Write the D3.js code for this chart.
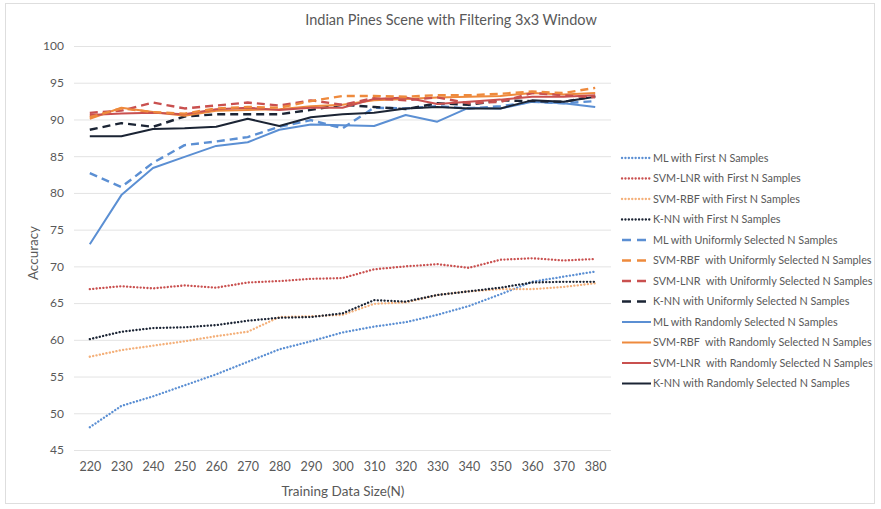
<!DOCTYPE html>
<html>
<head>
<meta charset="utf-8">
<script src="https://cdn.jsdelivr.net/npm/d3@7/dist/d3.min.js"></script>
<style>
  html, body { margin: 0; padding: 0; background: #fff; }
  svg text { font-family: Lato, "Open Sans", sans-serif; fill: #595959; }
  .legend text { white-space: pre; }
</style>
</head>
<body>
<svg id="chart" width="881" height="509"></svg>
<script>
// Training set sizes (x categories) and y tick values
const trainingSizes = [220, 230, 240, 250, 260, 270, 280, 290, 300, 310, 320, 330, 340, 350, 360, 370, 380];
const accuracyTicks = [45, 50, 55, 60, 65, 70, 75, 80, 85, 90, 95, 100];

// Accuracy (%) per classifier and sampling strategy
const mlFirst      = [48.1, 51.0, 52.3, 53.8, 55.3, 57.0, 58.7, 59.8, 61.0, 61.8, 62.4, 63.4, 64.6, 66.2, 67.9, 68.6, 69.3];
const svmLnrFirst  = [66.9, 67.3, 67.0, 67.4, 67.1, 67.8, 68.0, 68.3, 68.4, 69.6, 70.0, 70.3, 69.8, 70.9, 71.1, 70.8, 71.0];
const svmRbfFirst  = [57.7, 58.6, 59.2, 59.8, 60.5, 61.1, 63.1, 63.2, 63.4, 64.9, 65.1, 66.1, 66.6, 66.9, 66.9, 67.2, 67.7];
const knnFirst     = [60.1, 61.1, 61.6, 61.7, 62.0, 62.6, 63.0, 63.1, 63.6, 65.4, 65.2, 66.1, 66.6, 67.1, 67.8, 67.9, 67.9];
const mlUniform    = [82.7, 80.8, 84.1, 86.5, 87.0, 87.6, 89.0, 89.9, 88.8, 91.6, 91.5, 91.8, 91.5, 91.8, 92.4, 92.2, 92.5];
const svmRbfUniform= [90.3, 91.5, 91.0, 90.8, 91.5, 91.7, 91.6, 92.5, 93.2, 93.2, 93.1, 93.3, 93.3, 93.5, 93.8, 93.6, 94.3];
const svmLnrUniform= [90.9, 91.2, 92.3, 91.5, 91.9, 92.3, 91.9, 92.6, 92.0, 92.9, 92.6, 93.0, 92.2, 92.4, 93.6, 93.3, 93.0];
const knnUniform   = [88.6, 89.5, 89.0, 90.4, 90.7, 90.7, 90.7, 91.3, 92.0, 91.7, 91.4, 92.2, 92.0, 92.6, 92.5, 92.4, 93.2];
const mlRandom     = [73.0, 79.7, 83.4, 84.9, 86.4, 86.9, 88.6, 89.3, 89.2, 89.1, 90.6, 89.7, 91.6, 91.5, 92.4, 92.2, 91.7];
const svmRbfRandom = [90.1, 91.6, 91.0, 90.5, 91.2, 91.3, 91.4, 91.8, 92.0, 92.6, 92.8, 93.0, 93.1, 93.2, 93.6, 93.4, 93.6];
const svmLnrRandom = [90.6, 90.8, 90.9, 90.7, 91.4, 91.6, 91.3, 91.6, 91.6, 92.8, 93.0, 92.1, 92.4, 92.7, 93.1, 93.1, 93.3];
const knnRandom    = [87.7, 87.7, 88.7, 88.8, 89.0, 90.1, 89.1, 90.3, 90.7, 90.9, 91.5, 91.7, 91.5, 91.5, 92.6, 92.4, 93.1];

const seriesNames = [
  "ML with First N Samples",
  "SVM-LNR with First N Samples",
  "SVM-RBF with First N Samples",
  "K-NN with First N Samples",
  "ML with Uniformly Selected N Samples",
  "SVM-RBF  with Uniformly Selected N Samples",
  "SVM-LNR  with Uniformly Selected N Samples",
  "K-NN with Uniformly Selected N Samples",
  "ML with Randomly Selected N Samples",
  "SVM-RBF  with Randomly Selected N Samples",
  "SVM-LNR  with Randomly Selected N Samples",
  "K-NN with Randomly Selected N Samples"
];
const seriesValues = [mlFirst, svmLnrFirst, svmRbfFirst, knnFirst,
  mlUniform, svmRbfUniform, svmLnrUniform, knnUniform,
  mlRandom, svmRbfRandom, svmLnrRandom, knnRandom];

// styling
const palette = { ml: "#5b8fd3", lnr: "#c9504f", rbf: "#ee8a3d", knn: "#1b2434" };
const seriesColor = [palette.ml, palette.lnr, "#f4b07a", palette.knn,
  palette.ml, palette.rbf, palette.lnr, palette.knn,
  palette.ml, palette.rbf, palette.lnr, palette.knn];
const seriesKind = ["dot","dot","dot","dot","dash","dash","dash","dash","solid","solid","solid","solid"];
const styleOf = {
  dot:   { width: 2.3, dash: "0.1 3.3", cap: "round" },
  dash:  { width: 2.4, dash: "8 5",     cap: "butt" },
  solid: { width: 2.0, dash: null,      cap: "butt" }
};

const svg = d3.select("#chart");

// outer frame
svg.append("rect")
  .attr("x", 5.5).attr("y", 3.5).attr("width", 869).attr("height", 500)
  .attr("fill", "#fff").attr("stroke", "#dedede");

const plot = { left: 74, right: 611, top: 46, bottom: 450 };

const x = d3.scalePoint().domain(trainingSizes).range([plot.left, plot.right]).padding(0.5);
const y = d3.scaleLinear().domain([45, 100]).range([plot.bottom, plot.top]);

// horizontal gridlines
svg.append("g").selectAll("line").data(accuracyTicks).join("line")
  .attr("x1", plot.left).attr("x2", plot.right)
  .attr("y1", d => y(d) + 0.5).attr("y2", d => y(d) + 0.5)
  .attr("stroke", "#e3e3e3").attr("stroke-width", 1);

// y axis labels
const yAxis = d3.axisLeft(y).tickValues(accuracyTicks).tickSize(0).tickPadding(10);
const gy = svg.append("g").attr("transform", `translate(${plot.left},0)`).call(yAxis);
gy.select(".domain").remove();
gy.selectAll("text").style("font-size", "12px").attr("fill", "#595959");

// x axis labels
const xAxis = d3.axisBottom(x).tickSize(0).tickPadding(12);
const gx = svg.append("g").attr("transform", `translate(0,${plot.bottom})`).call(xAxis);
gx.select(".domain").remove();
gx.selectAll("text").style("font-size", "12.5px").attr("fill", "#595959");

// title and axis titles
svg.append("text").attr("x", 451).attr("y", 25).attr("text-anchor", "middle")
  .style("font-size", "14.5px").text("Indian Pines Scene with Filtering 3x3 Window");
svg.append("text").attr("x", 343).attr("y", 496).attr("text-anchor", "middle")
  .style("font-size", "13.5px").text("Training Data Size(N)");
svg.append("text").attr("transform", "translate(38,253) rotate(-90)").attr("text-anchor", "middle")
  .style("font-size", "13.5px").text("Accuracy");

// series lines
const line = d3.line().x((d, i) => x(trainingSizes[i])).y(d => y(d));
const drawOrder = [0, 1, 2, 3, 8, 4, 11, 7, 9, 10, 6, 5];
svg.append("g").selectAll("path").data(drawOrder).join("path")
  .attr("d", k => line(seriesValues[k]))
  .attr("fill", "none")
  .attr("stroke", k => seriesColor[k])
  .attr("stroke-width", k => styleOf[seriesKind[k]].width)
  .attr("stroke-dasharray", k => styleOf[seriesKind[k]].dash)
  .attr("stroke-linecap", k => styleOf[seriesKind[k]].cap)
  .attr("stroke-linejoin", "round");

// legend
const legend = svg.append("g").attr("class", "legend");
const legendTop = 158, legendStep = 20.5;
const items = legend.selectAll("g").data(seriesNames.map((n, k) => k)).join("g")
  .attr("transform", k => `translate(622,${legendTop + k * legendStep})`);
items.append("line")
  .attr("x1", 0).attr("x2", 29).attr("y1", 0).attr("y2", 0)
  .attr("stroke", k => seriesColor[k])
  .attr("stroke-width", k => styleOf[seriesKind[k]].width)
  .attr("stroke-dasharray", k => seriesKind[k] === "dot" ? "0.1 3.3" : (seriesKind[k] === "dash" ? "9 6" : null))
  .attr("stroke-linecap", k => styleOf[seriesKind[k]].cap);
items.append("text")
  .attr("x", 31).attr("y", 0).attr("dy", "0.35em")
  .attr("xml:space", "preserve")
  .style("font-size", "10.8px")
  .text(k => seriesNames[k]);
</script>
</body>
</html>
